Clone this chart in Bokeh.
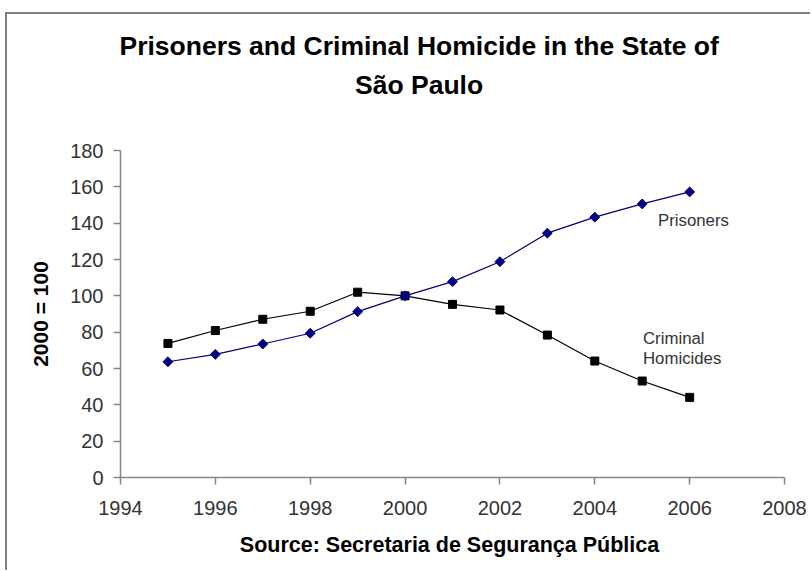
from bokeh.plotting import figure
from bokeh.models import ColumnDataSource, FixedTicker, Label, Range1d, Title
from bokeh.embed import file_html
from bokeh.resources import INLINE
import math

# ---- data ----
years = [1995, 1996, 1997, 1998, 1999, 2000, 2001, 2002, 2003, 2004, 2005, 2006]
prisoners = [63.7, 67.8, 73.5, 79.4, 91.3, 100.0, 107.8, 118.8, 134.5, 143.3, 150.6, 157.2]
homicides = [73.8, 80.9, 87.1, 91.5, 102.0, 100.0, 95.3, 92.2, 78.4, 64.1, 53.1, 44.1]
x_ticks = [1994, 1996, 1998, 2000, 2002, 2004, 2006, 2008]
y_ticks = [0, 20, 40, 60, 80, 100, 120, 140, 160, 180]

title_lines = ["Prisoners and Criminal Homicide in the State of", "São Paulo"]
y_label = "2000 = 100"
source_text = "Source:  Secretaria de Segurança Pública"

PAGE_W, PAGE_H = 812, 572
ML, MT, BW = 5, 12, 2          # outer margin and border width of the chart box
OX, OY = ML + BW, MT + BW      # canvas origin on the page
W, H = PAGE_W - OX, PAGE_H - OY
FL, FR, FT, FB = 120, 784, 150, 477  # frame edges on the page (px)
X0, X1, Y0, Y1 = 1994, 2008, 0, 180

def dx(px):
    return X0 + (px - FL) * (X1 - X0) / (FR - FL)

def dy(py):
    return Y0 + (FB - py) * (Y1 - Y0) / (FB - FT)

FONT = "Liberation Sans"

p = figure(width=W, height=H, output_backend="svg", toolbar_location=None,
           x_range=Range1d(X0, X1), y_range=Range1d(Y0, Y1),
           min_border_left=FL - OX, min_border_right=PAGE_W - FR,
           min_border_top=FT - OY, min_border_bottom=PAGE_H - FB,
           margin=(MT, 0, 0, ML),
           styles={"border-left": f"{BW}px solid #808080", "border-top": f"{BW}px solid #808080"})
p.outline_line_color = None
p.xgrid.grid_line_color = None
p.ygrid.grid_line_color = None
p.background_fill_color = "white"
p.border_fill_color = "white"

for ax in (p.xaxis[0], p.yaxis[0]):
    ax.axis_line_color = "#868686"
    ax.axis_line_width = 1.5
    ax.major_tick_line_color = "#868686"
    ax.major_tick_line_width = 1.5
    ax.major_tick_in = 0
    ax.major_tick_out = 7
    ax.minor_tick_line_color = None
    ax.major_label_text_font = FONT
    ax.major_label_text_font_size = "20px"
    ax.major_label_text_color = "#333333"
    ax.axis_label_text_font = FONT
    ax.axis_label_text_font_style = "bold"
    ax.axis_label_text_color = "black"

p.xaxis.ticker = FixedTicker(ticks=x_ticks)
p.yaxis.ticker = FixedTicker(ticks=y_ticks)
p.xaxis.major_label_standoff = 16
p.yaxis.major_label_standoff = 10

p.xaxis.axis_label = source_text
p.xaxis.axis_label_text_font_size = "21.5px"
p.xaxis.axis_label_standoff = 15
p.yaxis.axis_label = y_label
p.yaxis.axis_label_text_font_size = "21px"
p.yaxis.axis_label_standoff = 15

src_p = ColumnDataSource(dict(x=years, y=prisoners))
src_h = ColumnDataSource(dict(x=years, y=homicides))

p.line("x", "y", source=src_h, line_color="black", line_width=1.2)
p.scatter("x", "y", source=src_h, marker="square", size=8, fill_color="black", line_color="black")

p.line("x", "y", source=src_p, line_color="#000080", line_width=1.2)
p.scatter("x", "y", source=src_p, marker="square", angle=math.pi / 4, size=7,
          fill_color="#000080", line_color="#000080")

# two-line title: spacer nearest the frame, then line 2, then line 1
TSIZE = "26.5px"
p.add_layout(Title(text=" ", text_font_size="1px", standoff=46), "above")
p.add_layout(Title(text=title_lines[1], align="left", offset=234.5, standoff=4,
                   text_font=FONT, text_font_size=TSIZE, text_font_style="bold",
                   text_color="black"), "above")
p.add_layout(Title(text=title_lines[0], align="left", offset=-1, standoff=9,
                   text_font=FONT, text_font_size=TSIZE, text_font_style="bold",
                   text_color="black"), "above")

# series annotations
for txt, px, py in [("Prisoners", 657.5, 220), ("Criminal", 642.5, 338), ("Homicides", 642.5, 358)]:
    p.add_layout(Label(x=dx(px), y=dy(py), text=txt, text_align="left", text_baseline="middle",
                       text_font=FONT, text_font_size="16.8px", text_color="#333333"))

open("out.html", "w").write(file_html(p, INLINE))
